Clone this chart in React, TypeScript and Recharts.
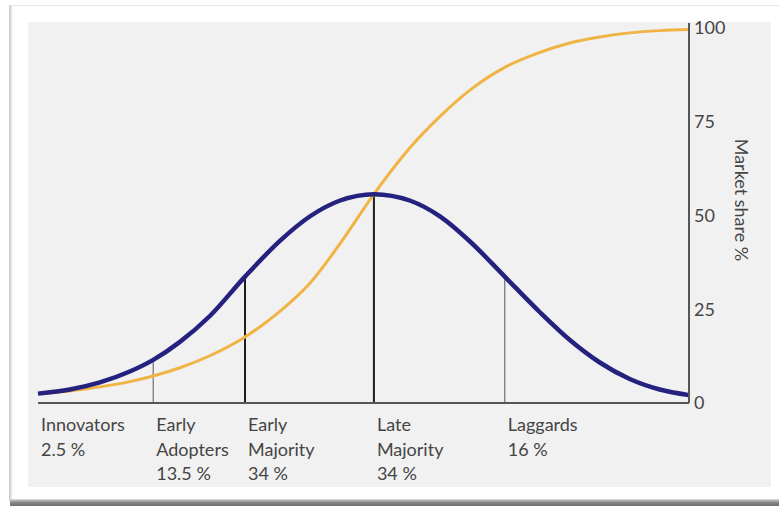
import React from "react";
import { ComposedChart, Line, XAxis, YAxis, ReferenceLine } from "recharts";

// x runs 0..100 across the axis, values are %
const xPos = [0, 4.9, 9.5, 14.1, 17.7, 21.8, 26.4, 31.8, 37.2, 41.8, 46.4, 51.6, 57.1, 61.8, 66.4, 71.7, 77.1, 81.7, 86.3, 90.9, 95.5, 100];
const adopters = [2.5, 3.6, 5.5, 8.4, 11.5, 16.3, 23.2, 33.7, 43.3, 49.8, 54, 55.7, 54, 49.7, 43, 33.7, 24.2, 16.8, 10.8, 6.4, 3.6, 2.1];
const marketShare = [2.5, 3.2, 4.3, 5.7, 7.2, 9.4, 12.6, 17.6, 24.5, 32, 42.5, 55.7, 68, 76.5, 83.5, 89.5, 93.5, 96, 97.6, 98.7, 99.3, 99.6];
const boundaries = [17.7, 31.8, 51.6, 71.7];
const groupNames = [["Innovators"], ["Early", "Adopters"], ["Early", "Majority"], ["Late", "Majority"], ["Laggards"]];
const groupShares = ["2.5 %", "13.5 %", "34 %", "34 %", "16 %"];
const yTicks = [0, 25, 50, 75, 100];

const FONT = "Lato, 'Open Sans', sans-serif";
const TEXT = "#454545";

const data = xPos.map((x, i) => ({ x, adopters: adopters[i], share: marketShare[i] }));
const groupStarts = [0, ...boundaries];

const GroupTick = (props: any) => {
  const { x, y, payload } = props;
  const i = groupStarts.indexOf(payload.value);
  if (i < 0) return null;
  const lines = [...groupNames[i], groupShares[i]];
  return (
    <text x={x + 3} y={y} fill={TEXT} fontSize={18} fontFamily={FONT}>
      {lines.map((l, k) => (
        <tspan key={k} x={x + 3} y={y + 28 + k * 24.5}>
          {l}
        </tspan>
      ))}
    </text>
  );
};

const ShareLabel = (props: any) => {
  const vb = props.viewBox || { x: 689, y: 28, width: 50, height: 375 };
  const cx = vb.x + 53;
  const cy = vb.y + 172;
  return (
    <text
      x={cx}
      y={cy}
      transform={`rotate(90 ${cx} ${cy})`}
      textAnchor="middle"
      dominantBaseline="central"
      fill={TEXT}
      fontSize={18}
      fontFamily={FONT}
    >
      Market share %
    </text>
  );
};

export default function App() {
  return (
    <div style={{ position: "absolute", left: 0, top: 0, width: 779, height: 506, background: "#fff", overflow: "hidden" }}>
      {/* frame */}
      <div style={{ position: "absolute", left: 10, top: 5, right: 0, height: 1, background: "#e6e6e6" }} />
      <div style={{ position: "absolute", left: 9, top: 5, width: 4, height: 496, background: "linear-gradient(to right, #c4c4c4, #fff)" }} />
      <div style={{ position: "absolute", left: 10, top: 499, right: 0, height: 7, background: "linear-gradient(#dedede, #8a8a8a 45%, #6e6e6e)" }} />
      <div style={{ position: "absolute", left: 28, top: 22, width: 743, height: 465, background: "#f1f1f1" }} />
      {/* axis stub above the 100 tick */}
      <div style={{ position: "absolute", left: 688, top: 23, width: 2, height: 6, background: "#555" }} />

      <div style={{ position: "absolute", left: 0, top: 0 }}>
        <ComposedChart width={779} height={506} data={data} margin={{ top: 28, right: 40, bottom: 23, left: 38 }}>
          <XAxis
            dataKey="x"
            type="number"
            domain={[0, 100]}
            ticks={groupStarts}
            interval={0}
            tick={<GroupTick />}
            tickLine={false}
            tickSize={0}
            tickMargin={0}
            axisLine={{ stroke: "#555", strokeWidth: 2 }}
            height={80}
          />
          <YAxis
            orientation="right"
            domain={[0, 100]}
            ticks={yTicks}
            interval={0}
            width={50}
            tickLine={false}
            tickSize={3}
            tickMargin={2}
            axisLine={{ stroke: "#555", strokeWidth: 2 }}
            tick={{ fill: TEXT, fontSize: 18, fontFamily: FONT, textAnchor: "start" }}
            label={<ShareLabel />}
          />
          {boundaries.map((b, i) => (
            <ReferenceLine
              key={b}
              segment={[
                { x: b, y: 0 },
                { x: b, y: adopters[xPos.indexOf(b)] },
              ]}
              stroke={i === 0 || i === 3 ? "#707070" : "#1e1e1e"}
              strokeWidth={i === 0 || i === 3 ? 1.2 : 2}
            />
          ))}
          <Line dataKey="share" type="monotone" stroke="#f0b444" strokeWidth={3} dot={false} isAnimationActive={false} />
          <Line dataKey="adopters" type="monotone" stroke="#25227f" strokeWidth={4.5} dot={false} isAnimationActive={false} />
        </ComposedChart>
      </div>
    </div>
  );
}
